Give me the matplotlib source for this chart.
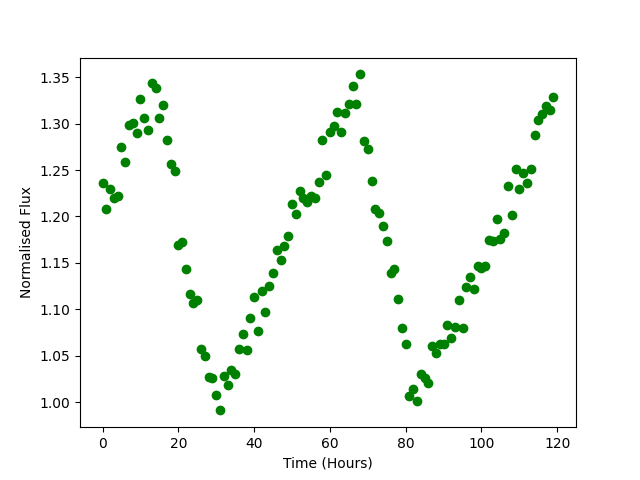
import matplotlib
matplotlib.use('Agg')
import matplotlib.pyplot as plt
import numpy as np

#--- Light curve readings, one per hour
time_hours = list(range(120))
flux = [1.236, 1.208, 1.230, 1.220, 1.222, 1.275, 1.259, 1.299, 1.301, 1.290,
		1.327, 1.306, 1.293, 1.344, 1.338, 1.306, 1.320, 1.282, 1.256, 1.249,
		1.169, 1.172, 1.143, 1.116, 1.107, 1.110, 1.057, 1.050, 1.027, 1.026,
		1.008, 0.991, 1.028, 1.018, 1.035, 1.030, 1.057, 1.073, 1.056, 1.091,
		1.113, 1.077, 1.120, 1.097, 1.125, 1.139, 1.164, 1.153, 1.168, 1.179,
		1.213, 1.203, 1.227, 1.220, 1.215, 1.222, 1.220, 1.237, 1.282, 1.245,
		1.291, 1.297, 1.313, 1.291, 1.311, 1.321, 1.341, 1.321, 1.353, 1.281,
		1.273, 1.238, 1.208, 1.204, 1.190, 1.173, 1.139, 1.143, 1.111, 1.080,
		1.062, 1.007, 1.014, 1.001, 1.030, 1.026, 1.021, 1.060, 1.053, 1.062,
		1.063, 1.083, 1.069, 1.081, 1.110, 1.080, 1.124, 1.135, 1.122, 1.147,
		1.144, 1.147, 1.175, 1.174, 1.197, 1.176, 1.182, 1.233, 1.202, 1.251,
		1.229, 1.247, 1.236, 1.251, 1.288, 1.304, 1.310, 1.319, 1.315, 1.329]

def main():
	plt.figure(figsize = (6.4, 4.8), dpi = 100)
	plt.plot(time_hours, flux, 'go')
	plt.xlabel('Time (Hours)')
	plt.ylabel('Normalised Flux')
	plt.savefig('out.png')
	plt.close()

if __name__ == "__main__":
	main()
